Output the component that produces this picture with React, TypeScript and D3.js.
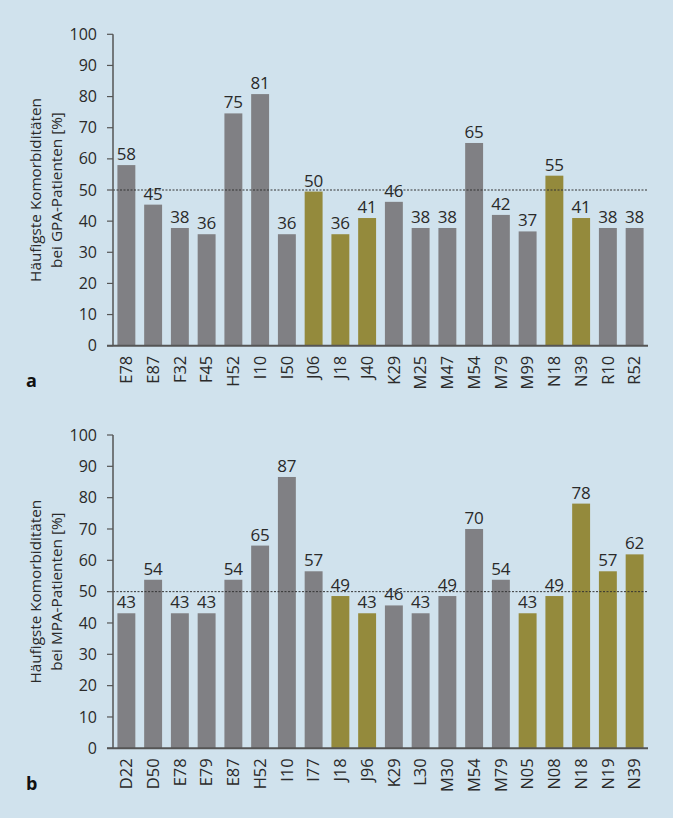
import React from "react";
import * as d3 from "d3";

// Panel a: GPA patients
const gpaCategories = ["E78","E87","F32","F45","H52","I10","I50","J06","J18","J40","K29","M25","M47","M54","M79","M99","N18","N39","R10","R52"];
const gpaValues = [58, 45.3, 37.8, 35.8, 74.6, 80.8, 35.8, 49.5, 35.8, 41, 46.2, 37.8, 37.8, 65.1, 42, 36.7, 54.6, 41, 37.8, 37.8];
const gpaHighlighted = ["J06","J18","J40","N18","N39"];

// Panel b: MPA patients
const mpaCategories = ["D22","D50","E78","E79","E87","H52","I10","I77","J18","J96","K29","L30","M30","M54","M79","N05","N08","N18","N19","N39"];
const mpaValues = [43.1, 53.8, 43.1, 43.1, 53.8, 64.7, 86.6, 56.5, 48.6, 43.1, 45.6, 43.1, 48.6, 70, 53.8, 43.1, 48.6, 78.1, 56.5, 61.9];
const mpaHighlighted = ["J18","J96","N05","N08","N18","N19","N39"];

const yTicks = [0, 10, 20, 30, 40, 50, 60, 70, 80, 90, 100];
const referenceLine = 50;

const BG = "#d0e2ed";
const GRAY = "#808084";
const OLIVE = "#948a3c";
const TEXT = "#2a2a2a";
const AXIS = "#555";
const FONT = "'Open Sans', sans-serif";

type PanelProps = {
  categories: string[];
  values: number[];
  highlighted: string[];
  yTop: number;
  yBottom: number;
  title1: string;
  title2: string;
  letter: string;
  letterY: number;
};

function Panel({ categories, values, highlighted, yTop, yBottom, title1, title2, letter, letterY }: PanelProps) {
  const x0 = 113;
  const x1 = 648;
  const x = d3.scaleBand<string>().domain(categories).range([x0, x1]).paddingInner(0.33).paddingOuter(0.165);
  const y = d3.scaleLinear().domain([0, 100]).range([yBottom, yTop]);
  const midY = (yTop + yBottom) / 2;
  return (
    <g>
      {/* y axis title */}
      <text transform={`translate(40.5,${midY}) rotate(-90)`} textAnchor="middle" fontSize={15.3} fill={TEXT} fontFamily={FONT}>{title1}</text>
      <text transform={`translate(61.5,${midY}) rotate(-90)`} textAnchor="middle" fontSize={15.3} fill={TEXT} fontFamily={FONT}>{title2}</text>
      {/* bars */}
      {categories.map((c, i) => (
        <rect key={c} x={x(c)} y={y(values[i])} width={x.bandwidth()} height={y(0) - y(values[i])}
          fill={highlighted.includes(c) ? OLIVE : GRAY} />
      ))}
      {/* value labels */}
      {categories.map((c, i) => (
        <text key={"v" + c} x={(x(c) as number) + x.bandwidth() / 2} y={y(values[i]) - 5} textAnchor="middle"
          fontSize={17} fill={TEXT} fontFamily={FONT}>{Math.round(values[i])}</text>
      ))}
      {/* reference line */}
      <line x1={x0} x2={x1} y1={y(referenceLine)} y2={y(referenceLine)} stroke="#333" strokeWidth={1} strokeDasharray="2 1.5" />
      {/* y axis */}
      <line x1={x0} x2={x0} y1={y(100)} y2={y(0)} stroke={AXIS} strokeWidth={1.5} />
      {yTicks.map((t) => (
        <g key={t}>
          <line x1={x0 - 6} x2={x0} y1={y(t)} y2={y(t)} stroke={AXIS} strokeWidth={1.2} />
          <text x={97} y={y(t)} dy="0.35em" textAnchor="end" fontSize={16} fill={TEXT} fontFamily={FONT}>{t}</text>
        </g>
      ))}
      {/* x axis */}
      <line x1={x0 - 6} x2={x1} y1={y(0)} y2={y(0)} stroke={AXIS} strokeWidth={2} />
      {categories.map((c) => (
        <text key={"c" + c} transform={`translate(${(x(c) as number) + x.bandwidth() / 2},${y(0) + 10}) rotate(-90)`}
          dy="0.35em" textAnchor="end" fontSize={16.5} fill={TEXT} fontFamily={FONT}>{c}</text>
      ))}
      <text x={26} y={letterY} fontSize={18} fontWeight="bold" fill="#111" fontFamily={FONT}>{letter}</text>
    </g>
  );
}

export default function App() {
  return (
    <svg width={673} height={818} style={{ position: "absolute", left: 0, top: 0, display: "block" }}>
      <rect width={673} height={818} fill={BG} />
      <Panel categories={gpaCategories} values={gpaValues} highlighted={gpaHighlighted}
        yTop={34.3} yBottom={345.7} title1="Häufigste Komorbiditäten" title2="bei GPA-Patienten [%]"
        letter="a" letterY={387} />
      <Panel categories={mpaCategories} values={mpaValues} highlighted={mpaHighlighted}
        yTop={435} yBottom={748.3} title1="Häufigste Komorbiditäten" title2="bei MPA-Patienten [%]"
        letter="b" letterY={790} />
    </svg>
  );
}
